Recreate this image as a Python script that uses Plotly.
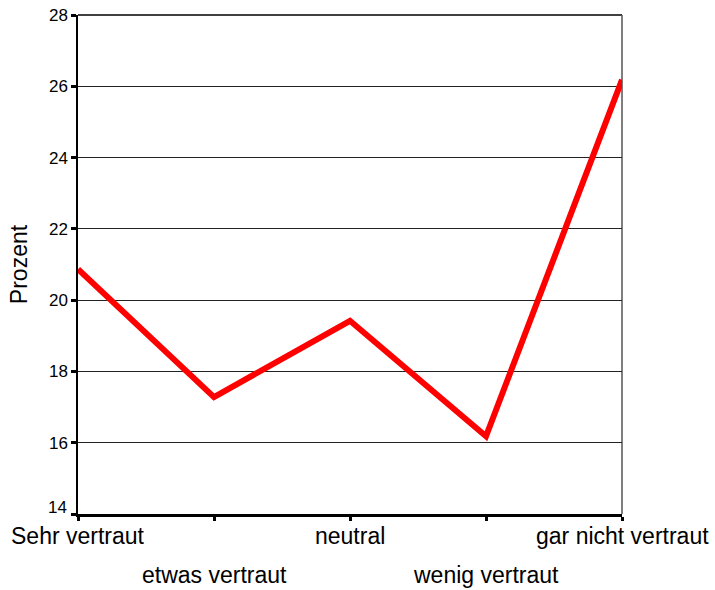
import plotly.graph_objects as go

# Survey answers: how familiar respondents are, share in percent
categories = ["Sehr vertraut", "etwas vertraut", "neutral", "wenig vertraut", "gar nicht vertraut"]
prozent = [20.87, 17.28, 19.42, 16.18, 26.18]
y_ticks = [14, 16, 18, 20, 22, 24, 26, 28]

FONT = "Liberation Sans, Arial, sans-serif"

fig = go.Figure()
fig.add_trace(go.Scatter(
    x=categories,
    y=prozent,
    mode="lines",
    line=dict(color="#ff0000", width=6),
    showlegend=False,
    hoverinfo="x+y",
))

# Category labels staggered on two rows below the axis
for i, name in enumerate(categories):
    fig.add_annotation(
        x=name, xref="x",
        y=0, yref="paper",
        yanchor="top",
        yshift=-7 if i % 2 == 0 else -46,
        text=name,
        showarrow=False,
        font=dict(family=FONT, size=23, color="black"),
    )

# Lowest y label sits slightly above its tick so it clears the category row
fig.add_annotation(
    x=0, xref="paper", xanchor="right", xshift=-9,
    y=y_ticks[0], yref="y", yanchor="middle", yshift=7,
    text=str(y_ticks[0]),
    showarrow=False,
    font=dict(family=FONT, size=17, color="black"),
)
tick_text = [""] + [str(v) for v in y_ticks[1:]]

# Frame: top edge and a thin grey right edge
fig.add_shape(type="line", xref="paper", yref="paper", x0=0, x1=1, y0=1, y1=1,
              line=dict(color="black", width=1.5), layer="below")
fig.add_shape(type="line", xref="paper", yref="paper", x0=1, x1=1, y0=0, y1=1,
              line=dict(color="#555555", width=1.5), layer="below")

fig.update_layout(
    width=715,
    height=590,
    margin=dict(l=78, r=93, t=15, b=76),
    paper_bgcolor="white",
    plot_bgcolor="white",
    font=dict(family=FONT, color="black"),
    xaxis=dict(
        type="category",
        categoryorder="array",
        categoryarray=categories,
        range=[0, len(categories) - 1],
        showticklabels=False,
        ticks="outside",
        ticklen=4,
        tickwidth=3,
        tickcolor="black",
        showgrid=False,
        showline=True,
        linecolor="black",
        linewidth=2.5,
        zeroline=False,
        automargin=False,
    ),
    yaxis=dict(
        range=[14, 28],
        tickvals=y_ticks,
        ticktext=tick_text,
        ticks="outside",
        ticklen=5,
        tickwidth=3,
        tickcolor="black",
        tickfont=dict(family=FONT, size=17, color="black"),
        showgrid=True,
        gridcolor="#222222",
        gridwidth=1.2,
        showline=True,
        linecolor="black",
        linewidth=1.5,
        zeroline=False,
        automargin=False,
        title=dict(text="Prozent", font=dict(family=FONT, size=23, color="black"), standoff=15),
    ),
)

fig.write_html("out.html")
